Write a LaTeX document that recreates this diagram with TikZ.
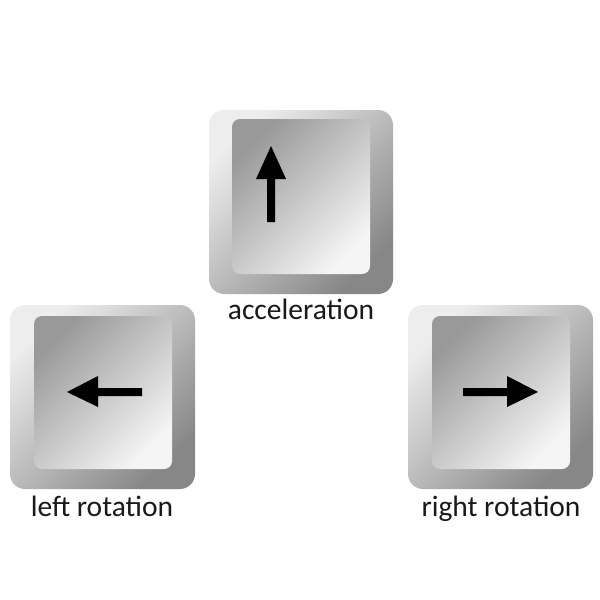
\documentclass[tikz,border=0pt]{standalone}
\usepackage{fontspec}
\setmainfont{Carlito}
\begin{document}
\begin{tikzpicture}[x=1pt,y=-1pt,
  frame/.style={rounded corners=15pt, top color=black!7, bottom color=black!47, shading angle=45},
  face/.style={rounded corners=8pt, top color=black!40, bottom color=black!4, shading angle=45},
  keyarrow/.style={fill=black},
  lbl/.style={font=\fontsize{29.5}{31}\selectfont, anchor=base, inner sep=0pt, text=black!90}]
\useasboundingbox[fill=white] (0,0) rectangle (600,600);
% top key
\path[frame] (209,110) rectangle (393,294);
\path[face] (232,119) rectangle (370,274);
\path[keyarrow] (267,222) -- (267,179) -- (256,179) -- (271,146) -- (286,179) -- (275,179) -- (275,222) -- cycle;
\node[lbl] (acc) at (301,319) {acceleration};
% left key
\path[frame] (10,305) rectangle (195,489);
\path[face] (34,316) rectangle (172,469);
\path[keyarrow] (142,388) -- (98,388) -- (98,376) -- (67,392) -- (98,407) -- (98,396) -- (142,396) -- cycle;
\node[lbl] (left) at (102,516) {left rotation};
% right key
\path[frame] (408,305) rectangle (593,489);
\path[face] (432,316) rectangle (570,469);
\path[keyarrow] (463,388) -- (507,388) -- (507,376) -- (538,392) -- (507,407) -- (507,396) -- (463,396) -- cycle;
\node[lbl] (right) at (501,516) {right rotation};
\end{tikzpicture}
\end{document}
